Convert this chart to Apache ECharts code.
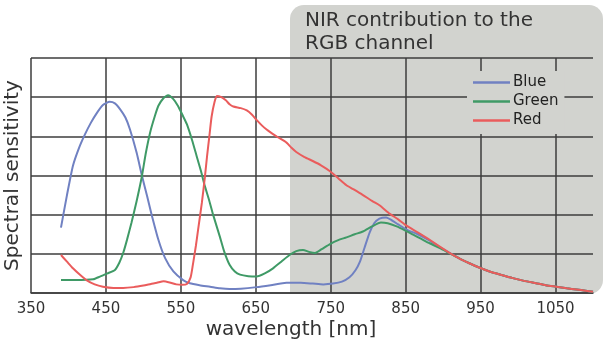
<!DOCTYPE html>
<html>
<head>
<meta charset="utf-8">
<script src="https://cdn.jsdelivr.net/npm/echarts@6/dist/echarts.min.js"></script>
<style>
  html, body { margin: 0; padding: 0; background: #fff; }
  #chart { width: 608px; height: 345px; }
</style>
</head>
<body>
<div id="chart"></div>
<script>
var xTicks = [350, 450, 550, 650, 750, 850, 950, 1050];

var blueNm = [390,398,406,414,422,430,438,446,455,462,469,476,482,491,498,505,511,520,529,540,553,562,575,589,602,615,630,651,670,691,710,726,740,753,765,775,783,789,795,802,808,815,824,832,840,851,866,882,895,909,922,935,948,962,978,993,1008,1024,1037,1051,1065,1078,1090,1100];
var blueVal = [1.67,2.5,3.25,3.7,4.05,4.35,4.6,4.8,4.88,4.84,4.69,4.48,4.18,3.58,3.0,2.47,2.0,1.36,0.89,0.55,0.33,0.25,0.2,0.16,0.12,0.1,0.11,0.15,0.2,0.26,0.26,0.24,0.22,0.24,0.29,0.4,0.58,0.8,1.15,1.55,1.78,1.9,1.93,1.85,1.75,1.62,1.5,1.34,1.18,1.02,0.88,0.76,0.65,0.55,0.46,0.38,0.31,0.25,0.2,0.16,0.12,0.09,0.06,0.03];

var greenNm = [390,410,433,442,452,462,468,473,478,484,491,498,503,509,515,520,527,533,540,546,552,558,565,571,577,582,588,593,602,608,615,622,629,640,651,662,673,684,695,704,713,721,729,738,749,760,771,782,793,805,817,826,838,849,860,871,882,895,909,922,935,948,962,978,993,1008,1024,1037,1051,1065,1078,1090,1100];
var greenVal = [0.33,0.33,0.35,0.42,0.5,0.59,0.78,1.02,1.35,1.79,2.35,2.98,3.55,4.1,4.5,4.78,4.98,5.05,4.95,4.78,4.55,4.31,3.9,3.5,3.1,2.73,2.35,2.0,1.44,1.05,0.72,0.55,0.47,0.43,0.42,0.5,0.63,0.8,0.97,1.07,1.1,1.05,1.02,1.12,1.25,1.35,1.42,1.5,1.57,1.7,1.8,1.78,1.7,1.6,1.49,1.38,1.27,1.15,1.01,0.88,0.76,0.65,0.55,0.46,0.38,0.31,0.25,0.2,0.16,0.12,0.09,0.06,0.03];

var redNm = [390,398,406,415,424,435,446,460,473,487,500,510,518,527,535,544,552,558,563,566,570,573,578,582,585,588,591,595,598,604,610,615,620,630,638,645,651,658,664,672,680,691,698,704,715,726,737,749,760,771,780,793,806,815,829,840,851,866,882,895,909,922,935,948,962,978,993,1008,1024,1037,1051,1065,1078,1090,1100];
var redVal = [0.97,0.8,0.63,0.47,0.33,0.22,0.16,0.13,0.13,0.15,0.19,0.23,0.26,0.3,0.27,0.22,0.21,0.23,0.4,0.72,1.2,1.62,2.3,2.95,3.5,4.0,4.5,4.88,5.03,5.0,4.92,4.82,4.76,4.72,4.66,4.55,4.42,4.28,4.18,4.07,3.97,3.84,3.7,3.6,3.47,3.37,3.26,3.11,2.93,2.75,2.65,2.5,2.34,2.24,2.02,1.88,1.72,1.55,1.36,1.19,1.02,0.88,0.76,0.65,0.55,0.46,0.38,0.31,0.25,0.2,0.16,0.12,0.09,0.06,0.03];

function pairs(xs, ys) {
  return xs.map(function (x, i) { return [x, ys[i]]; });
}

var font = 'DejaVu Sans';
var gridColor = '#3c3c3c';

var chart = echarts.init(document.getElementById('chart'));
var option = {
  animation: false,
  title: {
    text: 'NIR contribution to the\nRGB channel',
    left: 305,
    top: 9,
    padding: 0,
    textStyle: { fontFamily: font, fontSize: 20, fontWeight: 'normal', lineHeight: 23, color: '#333' }
  },
  grid: { left: 31, right: 15, top: 58, bottom: 52, outerBoundsMode: 'none' },
  legend: {
    orient: 'vertical',
    left: 467,
    top: 71,
    padding: [4, 6, 6, 6],
    itemGap: 4,
    itemWidth: 37,
    itemHeight: 2.5,
    icon: 'rect',
    backgroundColor: '#d2d3cf',
    textStyle: { fontFamily: font, fontSize: 15, lineHeight: 15, color: '#222', padding: [0, 0, 0, -2] },
    data: ['Blue', 'Green', 'Red']
  },
  xAxis: {
    type: 'value',
    min: 350,
    max: 1100,
    interval: 100,
    axisLine: { show: true, lineStyle: { color: gridColor, width: 1.5 } },
    axisTick: { show: false },
    axisLabel: {
      showMaxLabel: false,
      fontFamily: font, fontSize: 15, color: '#333', margin: 9,
      formatter: function (v) { return xTicks.indexOf(v) >= 0 ? String(v) : ''; }
    },
    splitLine: { show: true, showMaxLine: false, lineStyle: { color: gridColor, width: 1.5 } }
  },
  yAxis: {
    type: 'value',
    min: 0,
    max: 6,
    interval: 1,
    name: 'Spectral sensitivity',
    nameLocation: 'middle',
    nameGap: 8,
    nameTextStyle: { fontFamily: font, fontSize: 20, color: '#333' },
    axisLine: { show: false },
    axisTick: { show: false },
    axisLabel: { show: false },
    splitLine: { show: true, lineStyle: { color: gridColor, width: 1.5 } }
  },
  graphic: [
    {
      type: 'rect',
      z: -10,
      shape: { x: 290, y: 5, width: 313, height: 289, r: [14, 14, 14, 0] },
      style: { fill: '#d2d3cf' },
      silent: true
    },
    {
      type: 'text',
      x: 291,
      y: 330,
      style: {
        text: 'wavelength [nm]',
        font: '20px "DejaVu Sans"',
        fill: '#333',
        textAlign: 'center',
        textVerticalAlign: 'middle'
      }
    }
  ],
  series: [
    {
      name: 'Blue', type: 'line', symbol: 'none', smooth: 0.2,
      data: pairs(blueNm, blueVal),
      itemStyle: { color: '#7081c2' },
      lineStyle: { color: '#7081c2', width: 2 }
    },
    {
      name: 'Green', type: 'line', symbol: 'none', smooth: 0.2,
      data: pairs(greenNm, greenVal),
      itemStyle: { color: '#3f9a66' },
      lineStyle: { color: '#3f9a66', width: 2 }
    },
    {
      name: 'Red', type: 'line', symbol: 'none', smooth: 0.2,
      data: pairs(redNm, redVal),
      itemStyle: { color: '#ea5c5c' },
      lineStyle: { color: '#ea5c5c', width: 2 }
    }
  ]
};
chart.setOption(option);
</script>
</body>
</html>
